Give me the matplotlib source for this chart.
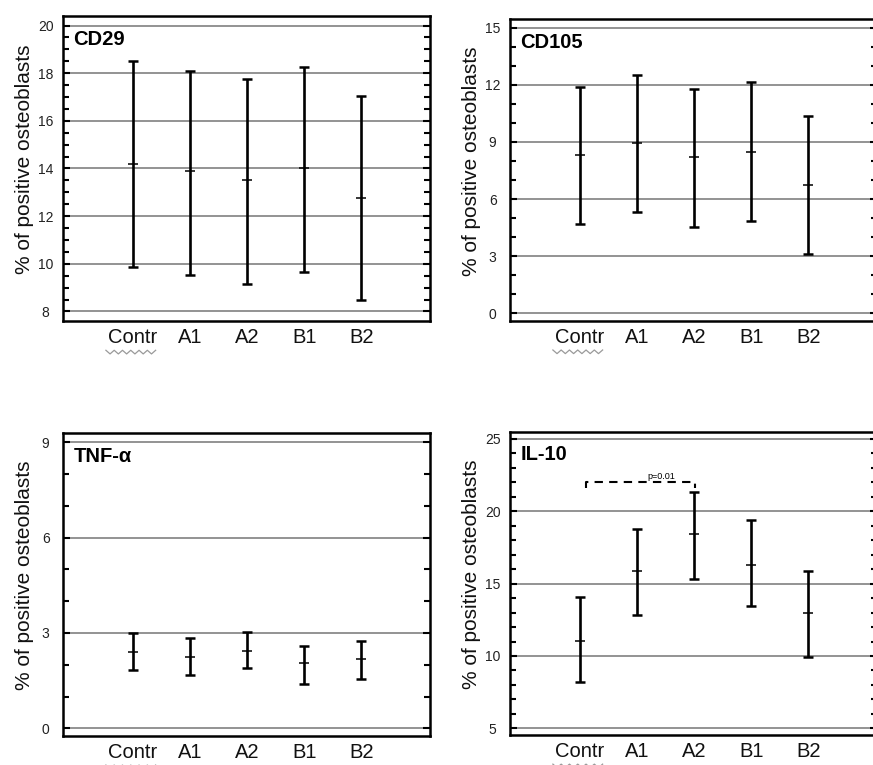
import numpy as np
import matplotlib
matplotlib.use("Agg")
import matplotlib.pyplot as plt
from matplotlib.ticker import MultipleLocator
import matplotlib.transforms as mtransforms

plt.rcParams["font.family"] = ["Liberation Sans", "DejaVu Sans"]

groups = ["Contr", "A1", "A2", "B1", "B2"]

cd29_mean = [14.2, 13.9, 13.5, 14.0, 12.75]
cd29_low = [9.85, 9.55, 9.15, 9.65, 8.5]
cd29_high = [18.5, 18.1, 17.75, 18.25, 17.05]

cd105_mean = [8.3, 8.95, 8.2, 8.45, 6.75]
cd105_low = [4.7, 5.3, 4.55, 4.85, 3.1]
cd105_high = [11.9, 12.5, 11.8, 12.15, 10.35]

tnf_mean = [2.41, 2.26, 2.42, 2.05, 2.19]
tnf_low = [1.84, 1.68, 1.89, 1.39, 1.54]
tnf_high = [2.99, 2.83, 3.04, 2.60, 2.76]

il10_mean = [11.05, 15.85, 18.4, 16.3, 13.0]
il10_low = [8.2, 12.8, 15.35, 13.45, 9.95]
il10_high = [14.05, 18.75, 21.3, 19.4, 15.85]

# bracket between Contr and A2 on IL-10 panel
il10_sig_text = "p=0.01"
il10_sig_y = 22.0


def panel(ax, title, mean, low, high, ylim, major, minor):
    x = np.arange(len(groups))
    mean = np.array(mean)
    err = [mean - np.array(low), np.array(high) - mean]

    ax.errorbar(x, mean, yerr=err, fmt="none", ecolor="black", elinewidth=1.9,
                capsize=3.6, capthick=1.8, zorder=3)
    ax.plot(x, mean, ls="none", marker="_", ms=6.5, mew=1.1, color="black", zorder=4)

    ax.set_xlim(-1.22, 5.2)
    ax.set_ylim(*ylim)
    ax.set_xticks(x)
    ax.set_xticklabels(groups, fontsize=14.5, color="#111111")
    ax.tick_params(axis="x", length=0, pad=5)

    ax.yaxis.set_major_locator(MultipleLocator(major))
    ax.yaxis.set_minor_locator(MultipleLocator(minor))
    ax.tick_params(axis="y", which="both", direction="in", left=True, right=True,
                   width=1.5, labelsize=10, labelcolor="#222222", pad=12.5)
    ax.tick_params(axis="y", which="major", length=5)
    ax.tick_params(axis="y", which="minor", length=4)
    for lab in ax.get_yticklabels():
        lab.set_horizontalalignment("center")

    ax.grid(axis="y", which="major", color="#8a8a8a", lw=1.3, zorder=1)
    for s in ax.spines.values():
        s.set_linewidth(1.8)

    ax.set_ylabel("% of positive osteoblasts", fontsize=15, color="#111111")
    ax.yaxis.set_label_coords(-0.08, 0.53)
    ax.text(0.028, 0.955, title, transform=ax.transAxes, fontsize=14.5,
            fontweight="bold", va="top", ha="left")

    # spell-check squiggle under "Contr"
    tr = mtransforms.blended_transform_factory(ax.transData, ax.transAxes)
    wx = np.linspace(-0.47, 0.40, 13)
    wy = -0.102 + 0.006 * np.where(np.arange(13) % 2 == 0, 1, -1)
    ax.plot(wx, wy, color="#9a9a9a", lw=0.9, transform=tr, clip_on=False)


fig = plt.figure(figsize=(8.73, 7.65), dpi=100)

ax1 = fig.add_axes([0.0722, 0.5804, 0.4204, 0.3987])
ax2 = fig.add_axes([0.5842, 0.5804, 0.4204, 0.3948])
ax3 = fig.add_axes([0.0722, 0.0379, 0.4204, 0.3957])
ax4 = fig.add_axes([0.5842, 0.0392, 0.4204, 0.3965])

panel(ax1, "CD29", cd29_mean, cd29_low, cd29_high, (7.6, 20.4), 2, 0.5)
panel(ax2, "CD105", cd105_mean, cd105_low, cd105_high, (-0.4, 15.45), 3, 1)
panel(ax3, "TNF-\u03b1", tnf_mean, tnf_low, tnf_high, (-0.24, 9.28), 3, 1)
panel(ax4, "IL-10", il10_mean, il10_low, il10_high, (4.54, 25.5), 5, 1)

# significance bracket
x0, x1 = 0.11, 2.02
ax4.plot([x0, x0, x1, x1], [il10_sig_y - 0.4, il10_sig_y, il10_sig_y, il10_sig_y - 0.4],
         color="black", lw=1.5, ls=(0, (4, 3)), zorder=3)
ax4.text(1.43, il10_sig_y + 0.1, il10_sig_text, fontsize=6.5, ha="center", va="bottom")

fig.savefig("out.png", dpi=100)
